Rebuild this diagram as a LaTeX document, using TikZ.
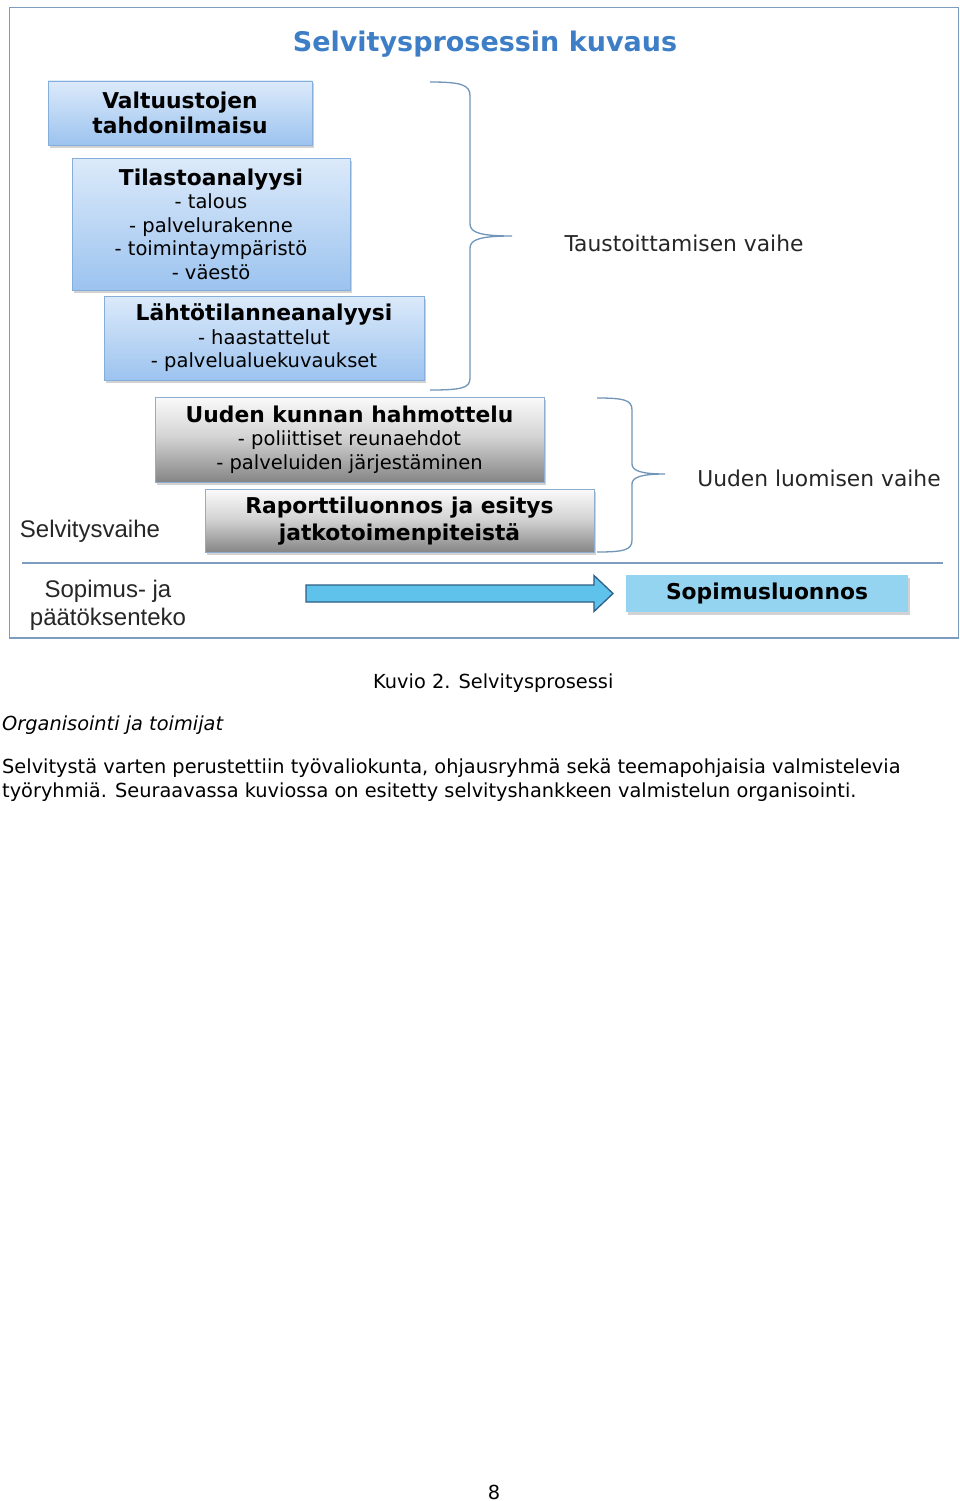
\documentclass[tikz,border=0pt]{standalone}
\usepackage{fontspec}
\setmainfont{DejaVu Sans}
\newfontfamily\arialfont{Liberation Sans}
\usetikzlibrary{shadows}
\definecolor{framec}{HTML}{7C9DBD}
\definecolor{titlec}{HTML}{3D7EC6}
\definecolor{bluetop}{HTML}{DCEAFA}
\definecolor{bluebot}{HTML}{9CC3EF}
\definecolor{blueedge}{HTML}{86AEDA}
\definecolor{grayedge}{HTML}{8FAECF}
\definecolor{gA}{HTML}{858585}
\definecolor{gB}{HTML}{D4D4D4}
\definecolor{gC}{HTML}{FAFAFA}
\definecolor{bracec}{HTML}{7195B8}
\definecolor{arrowfill}{HTML}{5FC2EA}
\definecolor{arrowedge}{HTML}{2F5E86}
\definecolor{sopfill}{HTML}{95D4F1}
\pgfdeclareverticalshading{grayshade}{100bp}{color(0bp)=(gA); color(25bp)=(gA); color(52bp)=(gB); color(75bp)=(gC); color(100bp)=(gC)}
\tikzset{
  boxbase/.style={rectangle, inner sep=0pt, align=center, line width=0.8pt,
    drop shadow={opacity=0.35, shadow xshift=2pt, shadow yshift=-2.5pt},
    font=\fontsize{19.5}{23.5}\selectfont},
  bluebox/.style={boxbase, draw=blueedge, top color=bluetop, bottom color=bluebot},
  graybox/.style={boxbase, draw=grayedge, shading=grayshade},
  bracepath/.style={draw=bracec, line width=1.3pt},
  phase/.style={font=\fontsize{21.8}{26}\selectfont, text=black!85, inner sep=0pt},
  body/.style={font=\fontsize{19.35}{24}\selectfont, inner sep=0pt, anchor=base west}
}
\newcommand{\bt}[1]{{\bfseries\fontsize{21.8}{23.5}\selectfont #1}}
\begin{document}
\begin{tikzpicture}[x=1pt, y=-1pt]
\useasboundingbox (0,0) rectangle (960,1501);
\fill[white] (0,0) rectangle (960,1501);
% frame
\draw[framec, line width=1.3pt] (9.5,7.5) rectangle (958.5,638);
\node[font=\bfseries\fontsize{27}{30}\selectfont, text=titlec, inner sep=0pt] (title) at (485,44.5) {Selvitysprosessin kuvaus};
% blue boxes
\node[bluebox, minimum width=264pt, minimum height=64pt, font=\bfseries\fontsize{21.8}{25}\selectfont] (b1) at (180,113) {Valtuustojen\\tahdonilmaisu};
\node[bluebox, minimum width=278pt, minimum height=132pt] (b2) at (211,224) {\bt{Tilastoanalyysi}\\- talous\\- palvelurakenne\\- toimintaympäristö\\- väestö};
\node[bluebox, minimum width=320pt, minimum height=84pt] (b3) at (264,338) {\bt{Lähtötilanneanalyysi}\\- haastattelut\\- palvelualuekuvaukset};
% gray boxes
\node[graybox, minimum width=389pt, minimum height=85pt] (b4) at (349.5,439.5) {\bt{Uuden kunnan hahmottelu}\\- poliittiset reunaehdot\\- palveluiden järjestäminen};
\node[graybox, minimum width=389pt, minimum height=63pt, font=\bfseries\fontsize{21.8}{26.5}\selectfont] (b5) at (399.5,521) {Raporttiluonnos ja esitys\\jatkotoimenpiteistä};
% braces
\draw[bracepath] (430,82) .. controls (462,82) and (470,85) .. (470,96) -- (470,224)
  .. controls (470,233) and (482,236) .. (512,236)
  .. controls (482,236) and (470,239) .. (470,248) -- (470,378)
  .. controls (470,388) and (462,390) .. (430,390);
\draw[bracepath] (597,398) .. controls (624,398) and (632,400) .. (632,410) -- (632,464)
  .. controls (632,471) and (642,474) .. (665,474)
  .. controls (642,474) and (632,477) .. (632,484) -- (632,540)
  .. controls (632,550) and (624,552) .. (597,552);
\node[phase] (ph1) at (684,243) {Taustoittamisen vaihe};
\node[phase] (ph2) at (819,478) {Uuden luomisen vaihe};
\node[font=\arialfont\fontsize{24}{28}\selectfont, text=black!85, inner sep=0pt] (selv) at (90,531) {Selvitysvaihe};
% separator
\draw[framec, line width=1.2pt] (22,563) -- (943,563);
\node[font=\arialfont\fontsize{24}{28}\selectfont, text=black!85, inner sep=0pt, align=center] (sop) at (108,605) {Sopimus- ja\\päätöksenteko};
% arrow
\draw[fill=arrowfill, draw=arrowedge, line width=1.3pt, line join=miter]
  (306,585) -- (594,585) -- (594,575.5) -- (613,593.5) -- (594,611.5) -- (594,602) -- (306,602) -- cycle;
\node[rectangle, fill=sopfill, minimum width=282pt, minimum height=37pt, inner sep=0pt,
  drop shadow={opacity=0.35, shadow xshift=2pt, shadow yshift=-2.5pt},
  font=\bfseries\fontsize{21.8}{26}\selectfont] (sopl) at (767,593.5) {Sopimusluonnos};
% text below
\node[body] (cap) at (373,688) {Kuvio 2. Selvitysprosessi};
\node[body, font=\itshape\fontsize{19.35}{24}\selectfont] (sub) at (2,730) {Organisointi ja toimijat};
\node[body] (p1) at (2,773) {Selvitystä varten perustettiin työvaliokunta, ohjausryhmä sekä teemapohjaisia valmistelevia};
\node[body] (p2) at (2,797) {työryhmiä. Seuraavassa kuviossa on esitetty selvityshankkeen valmistelun organisointi.};
\node[body, anchor=base] (pg) at (494,1499) {8};
\end{tikzpicture}
\end{document}
